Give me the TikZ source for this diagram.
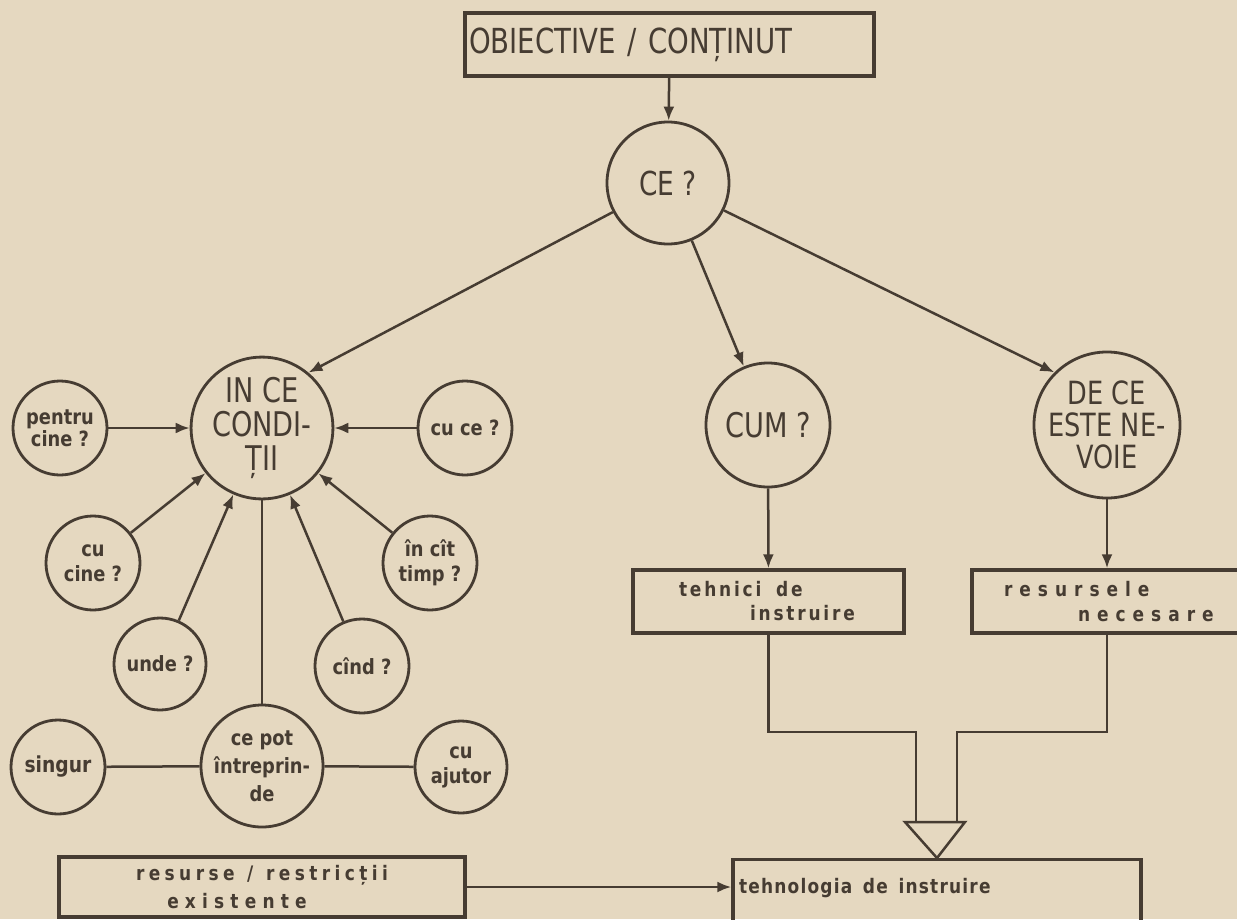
\documentclass[tikz,border=0pt]{standalone}
\usepackage{fontspec}
\setmainfont{DejaVu Sans}[FakeStretch=0.8]
\newfontfamily\lowfont{DejaVu Sans Bold}[FakeStretch=0.85]
\usetikzlibrary{arrows.meta}
\definecolor{paper}{RGB}{229,216,192}
\definecolor{ink}{RGB}{70,60,50}
\begin{document}
\begin{tikzpicture}[x=1pt,y=-1pt,
  q/.style={circle, draw=ink, line width=2.8pt, inner sep=0pt, align=center, text=ink,
            font=\lowfont\fontsize{21}{25}\selectfont},
  bigq/.style={q, font=\fontsize{33}{35}\selectfont},
  box/.style={rectangle, draw=ink, line width=3.4pt, inner sep=0pt, text=ink,
              font=\lowfont\fontsize{20}{24}\selectfont},
  arr/.style={draw=ink, line width=2.5pt, -{Latex[length=14pt,width=11pt]}},
  ln/.style={draw=ink, line width=2.5pt}]
\fill[paper] (0,0) rectangle (1237,919);
\useasboundingbox (0,0) rectangle (1237,919);
\clip (0,0) rectangle (1237,919);

% top box
\node[box, minimum height=63pt, text width=401pt, inner xsep=4pt, align=left,
      font=\fontsize{34.5}{36}\selectfont] (obj) at (669.5,44.5) {OBIECTIVE / CONȚINUT};

% circles
\node[bigq, minimum size=122pt] (ce) at (668,183) {CE ?};
\node[bigq, minimum size=120pt, font=\fontsize{34}{34}\selectfont] (cond) at (262,428) {IN CE\\CONDI-\\ȚII};
\node[q, minimum size=94pt, font=\lowfont\fontsize{21}{22}\selectfont] (pentru) at (60,428) {pentru\\cine ?};
\node[q, minimum size=94pt] (cuce) at (465,428) {cu ce ?};
\node[q, minimum size=94pt] (cucine) at (93,563) {cu\\cine ?};
\node[q, minimum size=94pt] (incit) at (430,563) {în cît\\timp ?};
\node[q, minimum size=92pt] (unde) at (160,664) {unde ?};
\node[q, minimum size=94pt] (cind) at (362,666) {cînd ?};
\node[q, minimum size=122pt, font=\lowfont\fontsize{21}{28}\selectfont] (cepot) at (262,766) {ce pot\\întreprin-\\de};
\node[q, minimum size=94pt, font=\lowfont\fontsize{22}{25}\selectfont] (singur) at (58,767) {singur};
\node[q, minimum size=92pt] (ajutor) at (461,767) {cu\\ajutor};
\node[bigq, minimum size=124pt, font=\fontsize{34}{34}\selectfont] (cum) at (768,425) {CUM ?};
\node[bigq, minimum size=124pt, font=\fontsize{32}{32}\selectfont] (dece) at (1107,425) {DE CE\\ESTE NE-\\VOIE};

% boxes
\node[box, minimum height=63pt, text width=179pt, inner xsep=46pt, align=left,
      font=\lowfont\fontsize{20}{24}\selectfont\addfontfeatures{LetterSpace=14}] (tehnici) at (768.5,601.5)
  {tehnici\hspace{8pt} de\\\hspace*{71pt}instruire};
\node[box, minimum height=63pt, text width=214pt, inner xsep=32pt, align=left,
      font=\lowfont\fontsize{20}{25}\selectfont\addfontfeatures{LetterSpace=35}] (res) at (1111,601.5)
  {resursele\\\hspace*{74pt}necesare};
\node[box, minimum width=406pt, minimum height=60pt, text width=396pt, inner xsep=5pt, align=center,
      font=\lowfont\fontsize{20}{28}\selectfont\addfontfeatures{LetterSpace=22}] (resurse) at (262,887)
  {resurse\hspace{6pt} /\hspace{6pt} restricții\hspace*{50pt}\\\addfontfeatures{LetterSpace=31}existente\hspace*{50pt}};
\node[box, anchor=north, minimum height=76pt, text width=396pt, inner xsep=6pt, align=left,
      font=\lowfont\fontsize{20}{24}\selectfont\addfontfeatures{LetterSpace=6}] (tehn) at (937,858)
  {tehnologia\hspace{4pt} de\hspace{4pt} instruire\\\mbox{}};

% connectors
\draw[arr] (obj) -- (ce);
\draw[arr] (ce) -- (cond.50);
\draw[arr] (ce) -- (cum);
\draw[arr] (ce) -- (dece.135);
\draw[arr] (pentru) -- (cond);
\draw[arr] (cuce) -- (cond);
\draw[arr] (cucine) -- (cond);
\draw[arr] (incit) -- (cond);
\draw[arr] (unde) -- (cond);
\draw[arr] (cind) -- (cond);
\draw[ln] (cond) -- (cepot);
\draw[ln] (singur) -- (cepot);
\draw[ln] (cepot) -- (ajutor);
\draw[arr] (cum) -- (tehnici);
\draw[arr] (dece) -- (dece |- res.north);
\draw[arr] (resurse.east) -- (resurse.east -| tehn.west);

% merge into hollow arrow
\coordinate (jl) at (916,732);
\coordinate (jr) at (957,732);
\coordinate (tl) at (905,822);
\coordinate (tr) at (965,822);
\draw[ln] (tehnici.south) |- (jl) -- (jl |- tl);
\draw[ln] (dece |- res.south) |- (jr) -- (jr |- tr);
\draw[ln, line join=miter] (tl) -- (tr) -- (tehn.north) -- cycle;
\end{tikzpicture}
\end{document}
